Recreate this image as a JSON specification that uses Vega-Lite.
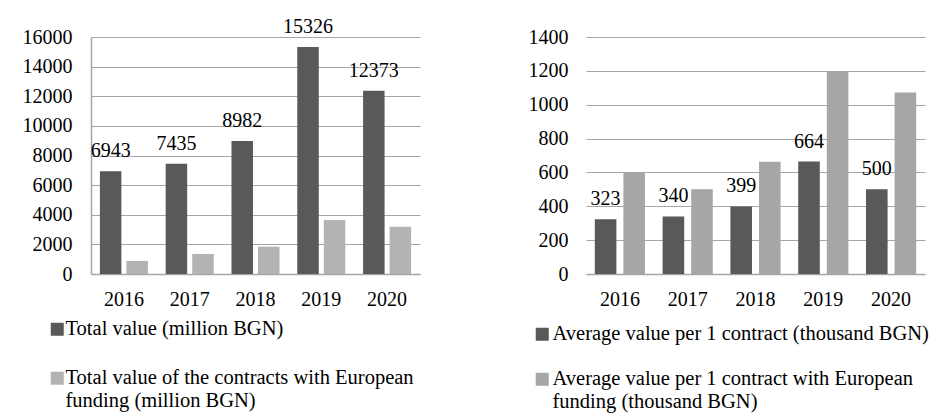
{
  "$schema": "https://vega.github.io/schema/vega-lite/v6.json",
  "background": "white",
  "padding": {"left": 22, "top": 16, "right": 5, "bottom": 5},
  "bounds": "flush",
  "spacing": 166,
  "config": {
    "view": {"stroke": null},
    "font": "Liberation Serif",
    "axis": {
      "labelFont": "Liberation Serif",
      "labelFontSize": 20,
      "labelColor": "#000000",
      "labelOverlap": false,
      "ticks": false,
      "title": null,
      "gridColor": "#a6a6a6",
      "domainColor": "#a6a6a6"
    },
    "legend": {
      "labelFont": "Liberation Serif",
      "labelFontSize": 20.5,
      "labelColor": "#000000",
      "labelLimit": 600,
      "symbolType": "square",
      "symbolSize": 169,
      "symbolStrokeWidth": 0,
      "padding": 0,
      "title": null
    }
  },
  "hconcat": [
    {
      "width": 329,
      "height": 237,
      "data": {
        "values": [
          {"year": "2016", "series": "Total value (million BGN)", "value": 6943},
          {"year": "2017", "series": "Total value (million BGN)", "value": 7435},
          {"year": "2018", "series": "Total value (million BGN)", "value": 8982},
          {"year": "2019", "series": "Total value (million BGN)", "value": 15326},
          {"year": "2020", "series": "Total value (million BGN)", "value": 12373},
          {"year": "2016", "series": "Total value of the contracts with European funding (million BGN)", "value": 880},
          {"year": "2017", "series": "Total value of the contracts with European funding (million BGN)", "value": 1350},
          {"year": "2018", "series": "Total value of the contracts with European funding (million BGN)", "value": 1840},
          {"year": "2019", "series": "Total value of the contracts with European funding (million BGN)", "value": 3650},
          {"year": "2020", "series": "Total value of the contracts with European funding (million BGN)", "value": 3190}
        ]
      },
      "layer": [
        {
          "mark": {"type": "bar"},
          "encoding": {
            "x": {
              "field": "year", "type": "nominal",
              "scale": {"paddingInner": 0.27, "paddingOuter": 0.135},
              "axis": {"labelAngle": 0, "labelPadding": 15, "domainWidth": 1.5}
            },
            "xOffset": {
              "field": "series", "type": "nominal",
              "scale": {"domain": ["Total value (million BGN)", "Total value of the contracts with European funding (million BGN)"], "paddingInner": 0.19}
            },
            "y": {
              "field": "value", "type": "quantitative",
              "scale": {"domain": [0, 16000]},
              "axis": {"values": [0, 2000, 4000, 6000, 8000, 10000, 12000, 14000, 16000], "format": "d", "labelPadding": 19, "domain": true, "domainWidth": 1.5}
            },
            "color": {
              "field": "series", "type": "nominal",
              "scale": {"domain": ["Total value (million BGN)", "Total value of the contracts with European funding (million BGN)"], "range": ["#595959", "#b3b3b3"]},
              "legend": {
                "orient": "none", "legendX": -44, "legendY": 282, "direction": "vertical",
                "rowPadding": 28, "labelOffset": -2,
                "labelExpr": "datum.label == 'Total value of the contracts with European funding (million BGN)' ? ['Total value of the contracts with European', 'funding (million BGN)'] : datum.label"
              }
            }
          }
        },
        {
          "transform": [{"filter": "datum.series == 'Total value (million BGN)'"}],
          "mark": {"type": "text", "baseline": "alphabetic", "dy": -14, "fontSize": 20, "font": "Liberation Serif", "color": "#000000"},
          "encoding": {
            "x": {"field": "year", "type": "nominal", "axis": {"labelAngle": 0, "labelPadding": 15, "domainWidth": 1.5}},
            "xOffset": {"field": "series", "type": "nominal"},
            "y": {
              "field": "value", "type": "quantitative",
              "axis": {"values": [0, 2000, 4000, 6000, 8000, 10000, 12000, 14000, 16000], "format": "d", "labelPadding": 19, "domain": true, "domainWidth": 1.5}
            },
            "text": {"field": "value", "type": "quantitative", "format": "d"}
          }
        }
      ]
    },
    {
      "width": 339,
      "height": 237,
      "data": {
        "values": [
          {"year": "2016", "series": "Average value per 1 contract (thousand BGN)", "value": 323},
          {"year": "2017", "series": "Average value per 1 contract (thousand BGN)", "value": 340},
          {"year": "2018", "series": "Average value per 1 contract (thousand BGN)", "value": 399},
          {"year": "2019", "series": "Average value per 1 contract (thousand BGN)", "value": 664},
          {"year": "2020", "series": "Average value per 1 contract (thousand BGN)", "value": 500},
          {"year": "2016", "series": "Average value per 1 contract with European funding (thousand BGN)", "value": 603},
          {"year": "2017", "series": "Average value per 1 contract with European funding (thousand BGN)", "value": 500},
          {"year": "2018", "series": "Average value per 1 contract with European funding (thousand BGN)", "value": 663},
          {"year": "2019", "series": "Average value per 1 contract with European funding (thousand BGN)", "value": 1198},
          {"year": "2020", "series": "Average value per 1 contract with European funding (thousand BGN)", "value": 1072}
        ]
      },
      "layer": [
        {
          "mark": {"type": "bar"},
          "encoding": {
            "x": {
              "field": "year", "type": "nominal",
              "scale": {"paddingInner": 0.26, "paddingOuter": 0.13},
              "axis": {"labelAngle": 0, "labelPadding": 15, "domainWidth": 1.5}
            },
            "xOffset": {
              "field": "series", "type": "nominal",
              "scale": {"domain": ["Average value per 1 contract (thousand BGN)", "Average value per 1 contract with European funding (thousand BGN)"], "paddingInner": 0.245}
            },
            "y": {
              "field": "value", "type": "quantitative",
              "scale": {"domain": [0, 1400]},
              "axis": {"values": [0, 200, 400, 600, 800, 1000, 1200, 1400], "format": "d", "labelPadding": 18, "domain": false}
            },
            "color": {
              "field": "series", "type": "nominal",
              "scale": {"domain": ["Average value per 1 contract (thousand BGN)", "Average value per 1 contract with European funding (thousand BGN)"], "range": ["#595959", "#a6a6a6"]},
              "legend": {
                "orient": "none", "legendX": -54, "legendY": 287, "direction": "vertical",
                "rowPadding": 24, "labelOffset": 0,
                "labelExpr": "datum.label == 'Average value per 1 contract with European funding (thousand BGN)' ? ['Average value per 1 contract with European', 'funding (thousand BGN)'] : datum.label"
              }
            }
          }
        },
        {
          "transform": [{"filter": "datum.series == 'Average value per 1 contract (thousand BGN)'"}],
          "mark": {"type": "text", "baseline": "alphabetic", "dy": -14, "fontSize": 20, "font": "Liberation Serif", "color": "#000000"},
          "encoding": {
            "x": {"field": "year", "type": "nominal", "axis": {"labelAngle": 0, "labelPadding": 15, "domainWidth": 1.5}},
            "xOffset": {"field": "series", "type": "nominal"},
            "y": {
              "field": "value", "type": "quantitative",
              "axis": {"values": [0, 200, 400, 600, 800, 1000, 1200, 1400], "format": "d", "labelPadding": 18, "domain": false}
            },
            "text": {"field": "value", "type": "quantitative", "format": "d"}
          }
        }
      ]
    }
  ],
  "resolve": {"scale": {"color": "independent", "x": "independent", "y": "independent", "xOffset": "independent"}}
}
